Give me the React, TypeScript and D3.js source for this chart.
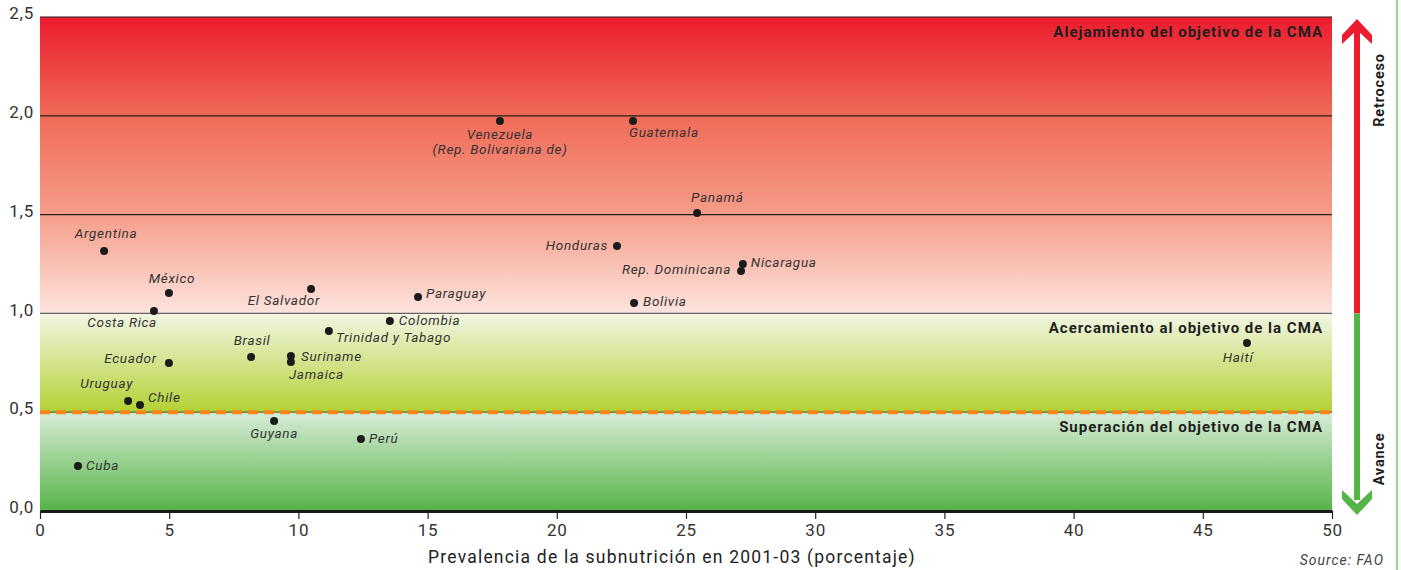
import { useEffect, useRef } from "react";
import * as d3 from "d3";

// country, prevalence 2001-03 (%), ratio vs 1990-92
const countries = [
  "Venezuela", "Guatemala", "Panamá", "Argentina", "Honduras", "Nicaragua",
  "Rep. Dominicana", "México", "El Salvador", "Paraguay", "Bolivia", "Costa Rica",
  "Colombia", "Trinidad y Tabago", "Haití", "Brasil", "Suriname", "Jamaica",
  "Ecuador", "Uruguay", "Chile", "Guyana", "Perú", "Cuba",
];
const prevalence = [
  17.8, 22.95, 25.43, 2.48, 22.33, 27.2,
  27.13, 4.99, 10.49, 14.63, 22.99, 4.41,
  13.54, 11.18, 46.71, 8.17, 9.71, 9.71,
  4.99, 3.41, 3.87, 9.06, 12.42, 1.47,
];
const ratio = [
  1.974, 1.974, 1.508, 1.316, 1.341, 1.25,
  1.215, 1.103, 1.123, 1.083, 1.053, 1.012,
  0.962, 0.911, 0.85, 0.779, 0.784, 0.754,
  0.749, 0.557, 0.536, 0.455, 0.364, 0.228,
];
const xTicks = [0, 5, 10, 15, 20, 25, 30, 35, 40, 45, 50];
const yTicks = [0, 0.5, 1.0, 1.5, 2.0, 2.5];
const zoneLabels = [
  { text: "Alejamiento del objetivo de la CMA", y: 2.5 },
  { text: "Acercamiento al objetivo de la CMA", y: 1.0 },
  { text: "Superación del objetivo de la CMA", y: 0.5 },
];

// label placement: [anchor, dx, dy]
const labelPos: Record<string, [string, number, number]> = {
  "Venezuela": ["middle", 0, 18],
  "Guatemala": ["start", -4, 16],
  "Panamá": ["start", -6, -11],
  "Argentina": ["middle", 2, -13],
  "Honduras": ["end", -9, 4],
  "Nicaragua": ["start", 8, 3],
  "Rep. Dominicana": ["end", -10, 3],
  "México": ["middle", 3, -10],
  "El Salvador": ["end", 9, 16],
  "Paraguay": ["start", 8, 1],
  "Bolivia": ["start", 9, 3],
  "Costa Rica": ["end", 3, 16],
  "Colombia": ["start", 9, 4],
  "Trinidad y Tabago": ["start", 7, 11],
  "Haití": ["middle", -9, 19],
  "Brasil": ["middle", 1, -12],
  "Suriname": ["start", 10, 5],
  "Jamaica": ["start", -2, 17],
  "Ecuador": ["end", -12, 0],
  "Uruguay": ["end", 5, -13],
  "Chile": ["start", 8, -3],
  "Guyana": ["middle", 0, 17],
  "Perú": ["start", 8, 4],
  "Cuba": ["start", 8, 4],
};

const W = 1401;
const H = 570;
const font = "Roboto, 'Open Sans', sans-serif";

export default function App() {
  const ref = useRef<SVGSVGElement>(null);

  useEffect(() => {
    const svg = d3.select(ref.current);
    svg.selectAll("*").remove();

    const x = d3.scaleLinear().domain([0, 50]).range([40, 1332]);
    const y = d3.scaleLinear().domain([0, 2.5]).range([511, 17]);

    const defs = svg.append("defs");
    const grad = (id: string, top: string, bottom: string) => {
      const g = defs.append("linearGradient").attr("id", id)
        .attr("x1", 0).attr("y1", 0).attr("x2", 0).attr("y2", 1);
      g.append("stop").attr("offset", "0%").attr("stop-color", top);
      g.append("stop").attr("offset", "100%").attr("stop-color", bottom);
    };
    const red = defs.append("linearGradient").attr("id", "gRed")
      .attr("x1", 0).attr("y1", 0).attr("x2", 0).attr("y2", 1);
    red.append("stop").attr("offset", "0%").attr("stop-color", "#ec1c2e");
    red.append("stop").attr("offset", "33%").attr("stop-color", "#f06a58");
    red.append("stop").attr("offset", "66%").attr("stop-color", "#f59c88");
    red.append("stop").attr("offset", "100%").attr("stop-color", "#fde4de");
    grad("gYel", "#f2f6e4", "#b3d133");
    grad("gGrn", "#d8ecd8", "#55b446");

    const zones = [
      { y0: 2.5, y1: 1.0, fill: "url(#gRed)" },
      { y0: 1.0, y1: 0.5, fill: "url(#gYel)" },
      { y0: 0.5, y1: 0, fill: "url(#gGrn)" },
    ];
    svg.append("g").selectAll("rect").data(zones).join("rect")
      .attr("x", x(0)).attr("width", x(50) - x(0))
      .attr("y", (d) => y(d.y0)).attr("height", (d) => y(d.y1) - y(d.y0))
      .attr("fill", (d) => d.fill);

    // grid lines
    svg.append("g").selectAll("line").data([1.0, 1.5, 2.0, 2.5]).join("line")
      .attr("x1", x(0)).attr("x2", x(50))
      .attr("y1", (d) => y(d)).attr("y2", (d) => y(d))
      .attr("stroke", (d) => (d === 1.0 ? "#666" : "#222"))
      .attr("stroke-width", 1.2);

    // target line 0.5
    svg.append("line").attr("x1", x(0)).attr("x2", x(50))
      .attr("y1", y(0.5)).attr("y2", y(0.5))
      .attr("stroke", "#5a6b2a").attr("stroke-width", 1.2);
    svg.append("line").attr("x1", x(0)).attr("x2", x(50))
      .attr("y1", y(0.5)).attr("y2", y(0.5))
      .attr("stroke", "#f7861e").attr("stroke-width", 4)
      .attr("stroke-dasharray", "10,6");

    // x axis
    const xAxis = svg.append("g").attr("transform", `translate(0,${y(0)})`)
      .call(d3.axisBottom(x).tickValues(xTicks).tickSize(8).tickSizeOuter(0).tickFormat(d3.format("d")));
    xAxis.select(".domain").attr("stroke", "#1a1a1a").attr("stroke-width", 3);
    xAxis.selectAll(".tick line").attr("stroke", "#222").attr("stroke-width", 1.2);
    xAxis.selectAll(".tick text").attr("font-family", font).attr("font-size", 17)
      .attr("letter-spacing", 0.8)
      .attr("fill", "#333").attr("dy", "1em").attr("y", 8);

    // y axis
    const yAxis = svg.append("g").attr("transform", `translate(${x(0)},0)`)
      .call(d3.axisLeft(y).tickValues(yTicks).tickSize(0)
        .tickFormat((d) => d3.format(".1f")(d as number).replace(".", ",")));
    yAxis.select(".domain").remove();
    yAxis.selectAll(".tick text").attr("font-family", font).attr("font-size", 17)
      .attr("letter-spacing", 0.8)
      .attr("fill", "#333").attr("x", -6).attr("dy", "0.1em");

    // zone labels
    svg.append("g").selectAll("text").data(zoneLabels).join("text")
      .attr("x", 1323).attr("y", (d) => y(d.y) + 20)
      .attr("text-anchor", "end").attr("font-family", font)
      .attr("font-weight", 700).attr("font-size", 15).attr("letter-spacing", 1)
      .attr("fill", "#1e1e1e")
      .text((d) => d.text);

    // points
    const data = countries.map((c, i) => ({ c, px: prevalence[i], r: ratio[i] }));
    svg.append("g").selectAll("circle").data(data).join("circle")
      .attr("cx", (d) => x(d.px)).attr("cy", (d) => y(d.r)).attr("r", 4)
      .attr("fill", "#1b1b1b");

    const lbl = svg.append("g").attr("font-family", font).attr("font-style", "italic")
      .attr("font-size", 13.5).attr("letter-spacing", 0.7).attr("fill", "#333");
    data.forEach((d) => {
      const [anchor, dx, dy] = labelPos[d.c];
      const t = lbl.append("text").attr("text-anchor", anchor)
        .attr("x", x(d.px) + dx).attr("y", y(d.r) + dy);
      if (d.c === "Venezuela") {
        t.append("tspan").attr("x", x(d.px) + dx).text("Venezuela");
        t.append("tspan").attr("x", x(d.px) + dx).attr("dy", 15).text("(Rep. Bolivariana de)");
      } else {
        t.text(d.c);
      }
    });

    // arrow on the right
    const ax = 1357;
    const mid = y(1.0);
    svg.append("rect").attr("x", ax - 3).attr("y", 30).attr("width", 6).attr("height", mid - 30).attr("fill", "#ec1c2e");
    svg.append("path").attr("d", `M${ax},19 L${ax + 15},35 L${ax + 15},44 L${ax},30 L${ax - 15},44 L${ax - 15},35 Z`)
      .attr("fill", "#ec1c2e");
    svg.append("rect").attr("x", ax - 3).attr("y", mid).attr("width", 6).attr("height", 500 - mid).attr("fill", "#55b446");
    svg.append("path").attr("d", `M${ax},515 L${ax + 15},499 L${ax + 15},490 L${ax},504 L${ax - 15},490 L${ax - 15},499 Z`)
      .attr("fill", "#55b446");
    svg.append("text").attr("transform", `translate(1384,90) rotate(-90)`)
      .attr("text-anchor", "middle").attr("font-family", font).attr("font-weight", 700)
      .attr("font-size", 14.5).attr("letter-spacing", 0.8).attr("fill", "#1e1e1e").text("Retroceso");
    svg.append("text").attr("transform", `translate(1384,459) rotate(-90)`)
      .attr("text-anchor", "middle").attr("font-family", font).attr("font-weight", 700)
      .attr("font-size", 14.5).attr("letter-spacing", 0.8).attr("fill", "#1e1e1e").text("Avance");

    // right border line
    svg.append("line").attr("x1", 1397).attr("x2", 1397).attr("y1", 0).attr("y2", H)
      .attr("stroke", "#a6d69b").attr("stroke-width", 2.5);

    // titles
    svg.append("text").attr("x", 672).attr("y", 563).attr("text-anchor", "middle")
      .attr("font-family", font).attr("font-size", 17.5).attr("letter-spacing", 1.2).attr("fill", "#222")
      .text("Prevalencia de la subnutrición en 2001-03 (porcentaje)");
    svg.append("text").attr("x", 1384).attr("y", 565).attr("text-anchor", "end")
      .attr("font-family", font).attr("font-style", "italic").attr("font-size", 14)
      .attr("letter-spacing", 1).attr("fill", "#444").text("Source: FAO");
  }, []);

  return (
    <svg ref={ref} width={W} height={H} style={{ position: "absolute", left: 0, top: 0, background: "#fff" }} />
  );
}
